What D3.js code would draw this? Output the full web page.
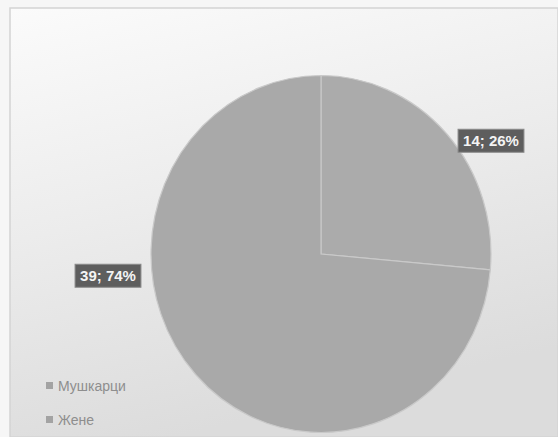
<!DOCTYPE html>
<html><head><meta charset="utf-8">
<script src="https://cdn.jsdelivr.net/npm/d3@7"></script>
<style>body{margin:0;background:#fff;}svg{display:block;}</style>
</head><body>
<svg id="c" width="558" height="437"></svg>
<script>
const categories = ["Мушкарци", "Жене"];
const values = [14, 39];
const labels = ["14; 26%", "39; 74%"];

const svg = d3.select("#c");
const W = 558, H = 437;
const defs = svg.append("defs");
const g1 = defs.append("linearGradient").attr("id","bg").attr("x1",0).attr("y1",0).attr("x2",0.3).attr("y2",1);
g1.append("stop").attr("offset","0").attr("stop-color","#fbfbfb");
g1.append("stop").attr("offset","0.5").attr("stop-color","#ececec");
g1.append("stop").attr("offset","1").attr("stop-color","#dcdcdc");
svg.append("rect").attr("width",W).attr("height",H).attr("fill","#f6f6f6");
svg.append("rect").attr("x",10).attr("y",8).attr("width",W-10).attr("height",H-8)
  .attr("fill","url(#bg)").attr("stroke","#d4d4d4").attr("stroke-width",1.5);

const cx = 321, cy = 254, r = 170;
const pie = d3.pie().sort(null).value(d => d)(values);
const arc = d3.arc().innerRadius(0).outerRadius(r);
const color = d3.scaleOrdinal().domain(categories).range(["#ababab", "#a9a9a9"]);
const gp = svg.append("g").attr("transform", `translate(${cx},${cy}) scale(1,1.05)`);
gp.selectAll("path").data(pie).join("path")
  .attr("d", arc).attr("fill", (d,i) => color(categories[i]))
  .attr("stroke", "#c9c9c9").attr("stroke-width", 1.2).attr("vector-effect","non-scaling-stroke");

// data labels
const lblPos = [[491, 141], [108, 276]];
labels.forEach((t, i) => {
  const g = svg.append("g").attr("transform", `translate(${lblPos[i][0]},${lblPos[i][1]})`);
  const txt = g.append("text").text(t).attr("text-anchor","middle").attr("dy","0.35em")
    .attr("font-family","Liberation Sans, Arial, sans-serif").attr("font-weight","bold")
    .attr("font-size",15).attr("fill","#f4f4f4");
  const bb = txt.node().getBBox();
  g.insert("rect","text").attr("x",bb.x-5).attr("y",bb.y-3).attr("width",bb.width+10).attr("height",bb.height+6)
    .attr("fill","#5e5e5e").attr("stroke","#8a8a8a").attr("stroke-width",1);
});

// legend
const leg = svg.append("g").attr("transform","translate(46,386)");
categories.forEach((c, i) => {
  const g = leg.append("g").attr("transform", `translate(0,${i*34})`);
  g.append("rect").attr("x",0).attr("y",-4).attr("width",7).attr("height",7).attr("fill","#a3a3a3");
  g.append("text").attr("x",12).attr("dy","0.35em").text(c)
    .attr("font-family","Liberation Sans, Arial, sans-serif").attr("font-size",14).attr("fill","#8e8e8e");
});
</script>
</body></html>
